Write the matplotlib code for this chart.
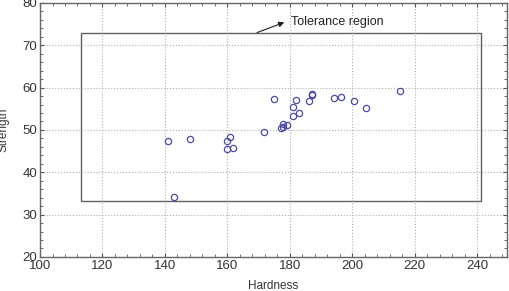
import matplotlib
matplotlib.use("Agg")
import matplotlib.pyplot as plt
from matplotlib.ticker import MultipleLocator
from matplotlib.patches import Rectangle

plt.rcParams['font.family'] = ['Liberation Sans', 'DejaVu Sans']

# data
hardness = [141.1, 142.8, 148.1, 159.9, 160.9, 159.9, 161.9, 171.8, 174.9,
            177.0, 177.9, 177.9, 179.0, 181.1, 181.1, 182.1, 182.9, 186.1,
            187.1, 187.1, 194.2, 196.4, 200.4, 204.3, 215.1]
strength = [47.4, 34.2, 47.8, 47.4, 48.3, 45.6, 45.8, 49.4, 57.3,
            50.5, 51.5, 50.8, 51.2, 53.3, 55.5, 57.1, 53.9, 56.9,
            58.3, 58.6, 57.5, 57.8, 56.9, 55.1, 59.1]

# tolerance region corners
region_x = [113, 241.3]
region_y = [33.1, 73.0]

fig = plt.figure(figsize=(5.09, 2.91), dpi=100)
ax = fig.add_axes([0.0786, 0.117, 0.9174, 0.873])

ax.plot(hardness, strength, 'o', markersize=4.5, markerfacecolor='none',
        markeredgecolor='#4b4ba6', markeredgewidth=0.9)

ax.add_patch(Rectangle((region_x[0], region_y[0]), region_x[1] - region_x[0],
                       region_y[1] - region_y[0], fill=False,
                       edgecolor='#606060', linewidth=1.0))

# arrow pointing at the label
ax.annotate('', xy=(178.2, 75.4), xytext=(169.5, 73.0),
            arrowprops=dict(arrowstyle='-|>', color='#222222', lw=0.8,
                            shrinkA=0, shrinkB=0, mutation_scale=8))
ax.text(180.3, 75.4, 'Tolerance region', fontsize=9, color='#222222',
        va='center', ha='left')

ax.set_xlim(100, 249.5)
ax.set_ylim(20, 80)
ax.xaxis.set_major_locator(MultipleLocator(20))
ax.xaxis.set_minor_locator(MultipleLocator(4))
ax.yaxis.set_major_locator(MultipleLocator(10))
ax.yaxis.set_minor_locator(MultipleLocator(2))
ax.tick_params(which='both', direction='in', top=True, right=True,
               color='#555555', labelsize=9.5, labelcolor='#333333')
ax.tick_params(which='major', length=3, pad=2)
ax.tick_params(which='minor', length=2)
ax.grid(True, which='major', linestyle=':', color='#b0b0b0', linewidth=0.8)
for s in ax.spines.values():
    s.set_color('#666666')
    s.set_linewidth(1.0)

ax.set_xlabel('Hardness', fontsize=8.5, color='#333333', labelpad=6)
ax.set_ylabel('Strength', fontsize=8.5, color='#333333', labelpad=9)

fig.savefig('out.png', dpi=100)
